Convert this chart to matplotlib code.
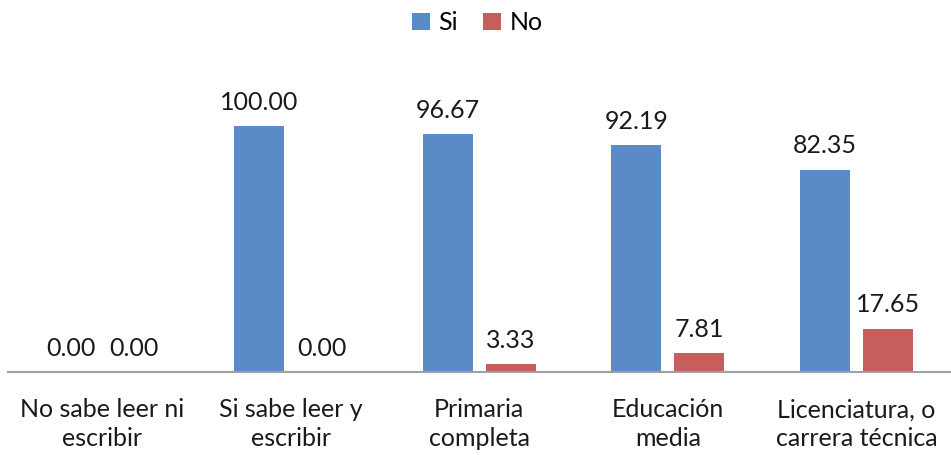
import matplotlib
matplotlib.use("Agg")
import matplotlib.pyplot as plt
import numpy as np

categories = ["No sabe leer ni\nescribir", "Si sabe leer y\nescribir", "Primaria\ncompleta",
              "Educación\nmedia", "Licenciatura, o\ncarrera técnica"]
si = [0.00, 100.00, 96.67, 92.19, 82.35]
no = [0.00, 0.00, 3.33, 7.81, 17.65]

plt.rcParams['font.family'] = ['Lato', 'DejaVu Sans']

fig = plt.figure(figsize=(9.51, 4.55), dpi=100)
ax = fig.add_axes([0.008, 0.1824, 0.992, 0.648])

x = np.arange(len(categories))
w = 0.265
b1 = ax.bar(x - 0.167, si, w, color='#5B8BC6', label='Si')
b2 = ax.bar(x + 0.167, no, w, color='#C65F5C', label='No')

for bars, vals in ((b1, si), (b2, no)):
    for r, v in zip(bars, vals):
        ax.text(r.get_x() + r.get_width() / 2, v + 5, f"{v:.2f}",
                ha='center', va='bottom', fontsize=18, color='#1a1a1a')

ax.set_xlim(-0.5, 4.5)
ax.set_ylim(0, 120)
ax.set_yticks([])
ax.set_xticks(x)
ax.set_xticklabels(categories, fontsize=18, color='#1a1a1a', linespacing=1.3)
ax.tick_params(axis='x', length=0, pad=19)
for s in ['top', 'right', 'left']:
    ax.spines[s].set_visible(False)
ax.spines['bottom'].set_color('#A0A0A0')
ax.spines['bottom'].set_linewidth(1.5)

fig.legend(loc='upper center', bbox_to_anchor=(0.502, 1.025), ncol=2, frameon=False,
           fontsize=18, handlelength=0.7, handleheight=0.7, handletextpad=0.35,
           columnspacing=1.0)

fig.savefig("out.png", dpi=100)
